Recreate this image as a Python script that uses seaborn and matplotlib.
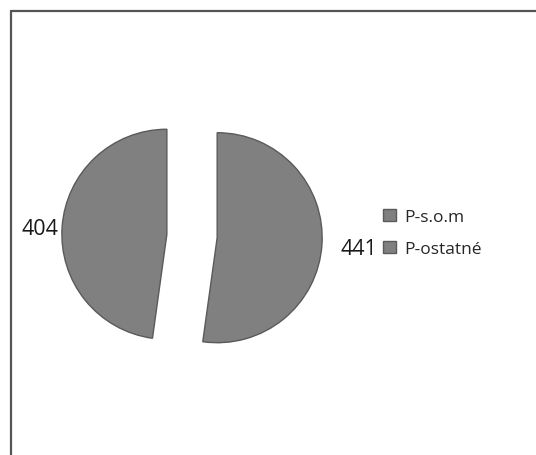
import matplotlib
matplotlib.use("Agg")
import matplotlib.pyplot as plt
from matplotlib.lines import Line2D
import seaborn as sns

# data
names = ["P-s.o.m", "P-ostatné"]
values = [441, 404]

sns.set_theme(style="white")
plt.rcParams['font.family'] = ['Open Sans', 'DejaVu Sans']

grey = "#808080"
edge = "#5a5a5a"

fig = plt.figure(figsize=(5.36, 4.56), dpi=100)
ax = fig.add_axes([0.0644, 0.1349, 0.5877, 0.6908])

wedges, texts = ax.pie(values, labels=[str(v) for v in values], colors=[grey, grey],
                       startangle=90, counterclock=False, explode=[0.24, 0.24],
                       labeldistance=1.12, radius=1.0,
                       wedgeprops=dict(edgecolor=edge, linewidth=1.0),
                       textprops=dict(fontsize=15.5, color="#1a1a1a"))
ax.set_xlim(-1.5, 1.5)
ax.set_ylim(-1.5, 1.5)

# nudge the value labels to where the original puts them
texts[0].set_position((1.41, -0.115))
texts[1].set_position((-1.275, 0.075))

fig.legend(wedges, names, loc='center left', bbox_to_anchor=(0.686, 0.487),
           frameon=False, fontsize=12.5, handlelength=0.75, handleheight=0.75,
           handletextpad=0.45, labelspacing=0.9)

# chart border (only top and left edges visible in the crop)
fig.add_artist(Line2D([11 / 536, 11 / 536], [0, 1 - 12 / 456], color="#555555", lw=1.6))
fig.add_artist(Line2D([11 / 536, 1], [1 - 12 / 456, 1 - 12 / 456], color="#555555", lw=1.6))

fig.savefig("out.png", dpi=100, facecolor="white")
